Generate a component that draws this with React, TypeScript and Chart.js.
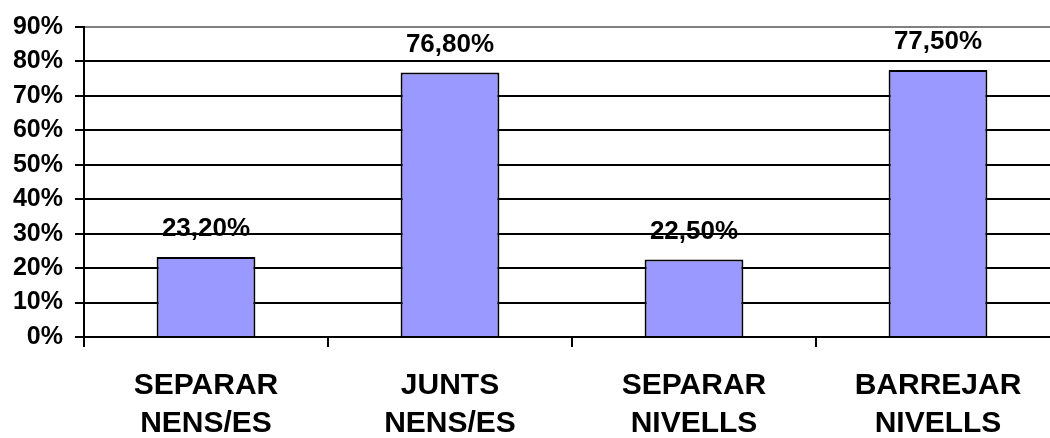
import React, { useEffect, useRef } from "react";
import { Chart, registerables } from "chart.js";

Chart.register(...registerables);

const categories: string[][] = [
  ["SEPARAR", "NENS/ES"],
  ["JUNTS", "NENS/ES"],
  ["SEPARAR", "NIVELLS"],
  ["BARREJAR", "NIVELLS"],
];
const values: number[] = [23.2, 76.8, 22.5, 77.5];
const yTicksMax = 90;
const yStep = 10;

const FONT = "Arial, 'Liberation Sans', sans-serif";

const valueLabels = {
  id: "valueLabels",
  afterDatasetsDraw(chart: any) {
    const ctx = chart.ctx;
    const meta = chart.getDatasetMeta(0);
    ctx.save();
    ctx.font = `bold 26px ${FONT}`;
    ctx.fillStyle = "#000";
    ctx.textAlign = "center";
    ctx.textBaseline = "middle";
    meta.data.forEach((bar: any, i: number) => {
      const txt = values[i].toFixed(2).replace(".", ",") + "%";
      ctx.fillText(txt, bar.x, bar.y - 28);
    });
    ctx.restore();
  },
};

export default function App() {
  const ref = useRef<HTMLCanvasElement>(null);
  useEffect(() => {
    if (!ref.current) return;
    const chart = new Chart(ref.current, {
      type: "bar",
      data: {
        labels: categories,
        datasets: [
          {
            data: values,
            backgroundColor: "#9999FF",
            borderColor: "#000000",
            borderWidth: 2,
            barPercentage: 0.405,
            categoryPercentage: 1,
          },
        ],
      },
      options: {
        responsive: false,
        animation: false,
        devicePixelRatio: 1,
        layout: { padding: { top: 24, right: 2, left: 0, bottom: 0 } },
        plugins: { legend: { display: false }, tooltip: { enabled: false } },
        scales: {
          x: {
            grid: {
              offset: true,
              drawOnChartArea: false,
              tickLength: 10,
              color: "#000",
              lineWidth: 2,
            },
            border: { display: true, color: "#000", width: 2 },
            ticks: {
              color: "#000",
              padding: 20,
              maxRotation: 0,
              autoSkip: false,
              font: { family: FONT, size: 30, weight: "bold", lineHeight: 1.25 },
            },
            afterFit: (scale: any) => {
              scale.height = 101;
            },
          },
          y: {
            min: 0,
            max: yTicksMax,
            ticks: {
              stepSize: yStep,
              color: "#000",
              padding: 12,
              font: { family: FONT, size: 25, weight: "bold" },
              callback: (v: any) => v + "%",
            },
            grid: {
              tickLength: 9,
              lineWidth: 2,
              color: (c: any) => (c.tick && c.tick.value === yTicksMax ? "#808080" : "#000"),
              tickColor: "#000",
            },
            border: { display: true, color: "#000", width: 2 },
            afterFit: (scale: any) => {
              scale.width = 84;
            },
          },
        },
      },
      plugins: [valueLabels],
    });
    return () => chart.destroy();
  }, []);
  return (
    <canvas
      ref={ref}
      width={1062}
      height={438}
      style={{ position: "fixed", left: 0, top: 0, width: 1062, height: 438 }}
    />
  );
}
